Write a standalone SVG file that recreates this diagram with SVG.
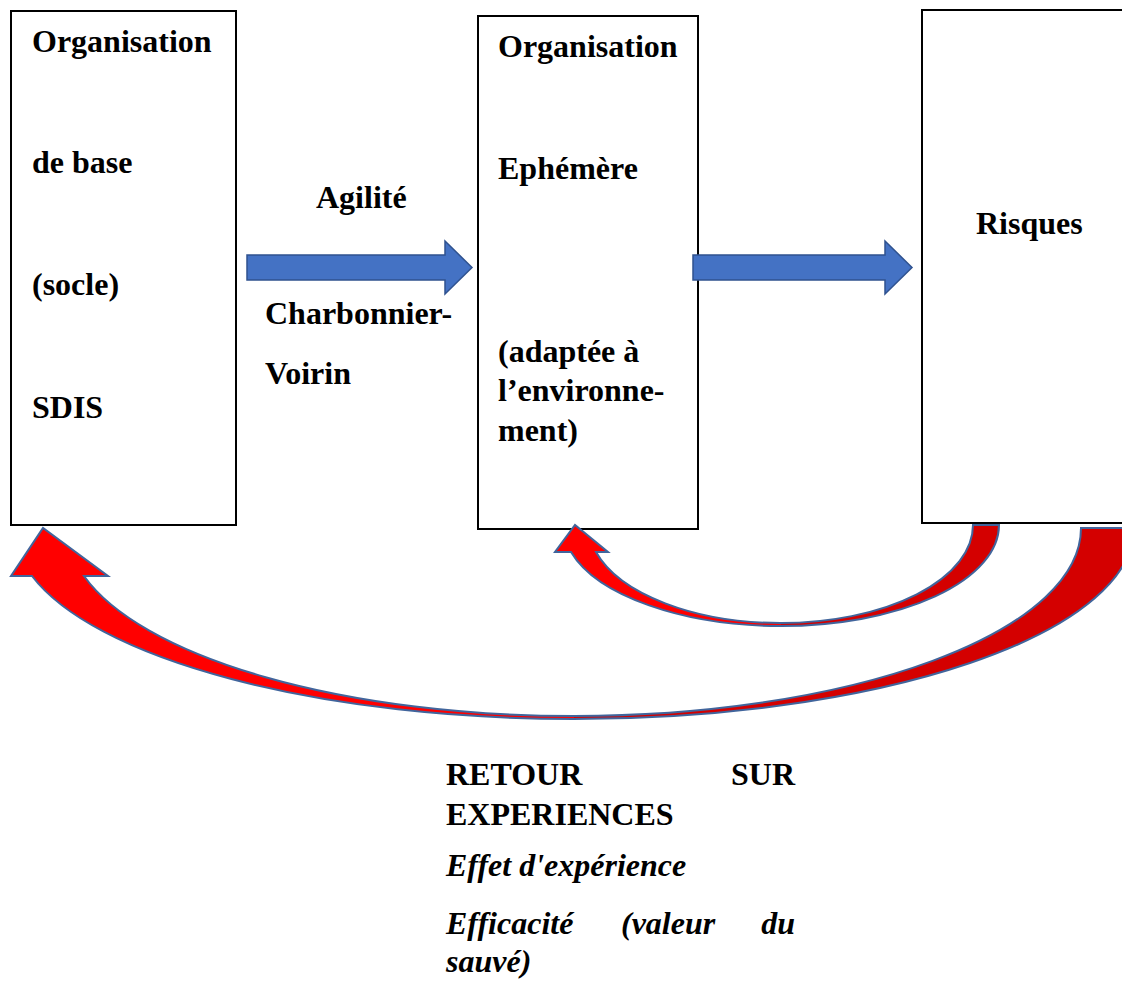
<svg xmlns="http://www.w3.org/2000/svg" width="1122" height="990" viewBox="0 0 1122 990">
<style>
.box{fill:#ffffff;stroke:#000000;stroke-width:2}
.t{font-family:"Liberation Serif","Times New Roman",serif;font-size:32px;font-weight:bold;fill:#000000}
.ti{font-family:"Liberation Serif","Times New Roman",serif;font-size:32px;font-weight:bold;font-style:italic;fill:#000000}
.blue{fill:#4472C4;stroke:#2F528F;stroke-width:1.5}
.red{fill:#FF0000;stroke:none}
.dred{fill:#D40000;stroke:none}
.rline{fill:none;stroke:#41659C;stroke-width:2;stroke-linejoin:miter}
</style>
<rect width="1122" height="990" fill="#ffffff"/>
<g id="node-base">
<rect class="box" x="11" y="11" width="225" height="514"/>
<text class="t" x="32" y="52">Organisation</text>
<text class="t" x="32" y="173">de base</text>
<text class="t" x="32" y="295">(socle)</text>
<text class="t" x="32" y="418">SDIS</text>
</g>
<g id="node-ephemere">
<rect class="box" x="478" y="16" width="220" height="513"/>
<text class="t" x="498" y="57">Organisation</text>
<text class="t" x="498" y="179">Ephémère</text>
<text class="t" x="498" y="362">(adaptée à</text>
<text class="t" x="498" y="401">l’environne-</text>
<text class="t" x="498" y="441">ment)</text>
</g>
<g id="node-risques">
<rect class="box" x="922" y="10" width="230" height="513"/>
<text class="t" x="976" y="234">Risques</text>
</g>
<g id="label-agilite">
<text class="t" x="316" y="208">Agilité</text>
<text class="t" x="265" y="324">Charbonnier-</text>
<text class="t" x="265" y="384">Voirin</text>
</g>
<g id="connectors">
<path class="blue" d="M247 255 L445 255 L445 241 L472 267.5 L445 294 L445 280 L247 280 Z"/>
<path class="blue" d="M693 255 L885 255 L885 241 L912 267.5 L885 294 L885 280 L693 280 Z"/>
<path class="dred" d="M973 525 L999 525 A218 101 0 0 1 781 626 L781 623 A192 98 0 0 0 973 525 Z"/>
<path class="red" d="M781 626 A218 101 0 0 1 571 552 L555 552 L575 525 L608 552 L596 552 A192 98 0 0 0 781 623 Z"/>
<path class="rline" d="M973 525 L999 525 A218 101 0 0 1 781 626 A218 101 0 0 1 571 552 L555 552 L575 525 L608 552 L596 552 A192 98 0 0 0 781 623 A192 98 0 0 0 973 525 Z"/>
<path class="dred" d="M1081 528 L1134 528 A560 191 0 0 1 574 719 L574 716 A507 188 0 0 0 1081 528 Z"/>
<path class="red" d="M574 719 A560 191 0 0 1 32 576 L11 576 L43 528 L108 576 L84 576 A507 188 0 0 0 574 716 Z"/>
<path class="rline" d="M1081 528 L1134 528 A560 191 0 0 1 574 719 A560 191 0 0 1 32 576 L11 576 L43 528 L108 576 L84 576 A507 188 0 0 0 574 716 A507 188 0 0 0 1081 528 Z"/>
</g>
<g id="label-retour">
<text class="t" x="446" y="785">RETOUR</text>
<text class="t" x="795" y="785" text-anchor="end">SUR</text>
<text class="t" x="446" y="825">EXPERIENCES</text>
<text class="ti" x="446" y="876">Effet d'expérience</text>
<text class="ti" x="446" y="934">Efficacité</text>
<text class="ti" x="621" y="934">(valeur</text>
<text class="ti" x="795" y="934" text-anchor="end">du</text>
<text class="ti" x="446" y="972">sauvé)</text>
</g>
</svg>
